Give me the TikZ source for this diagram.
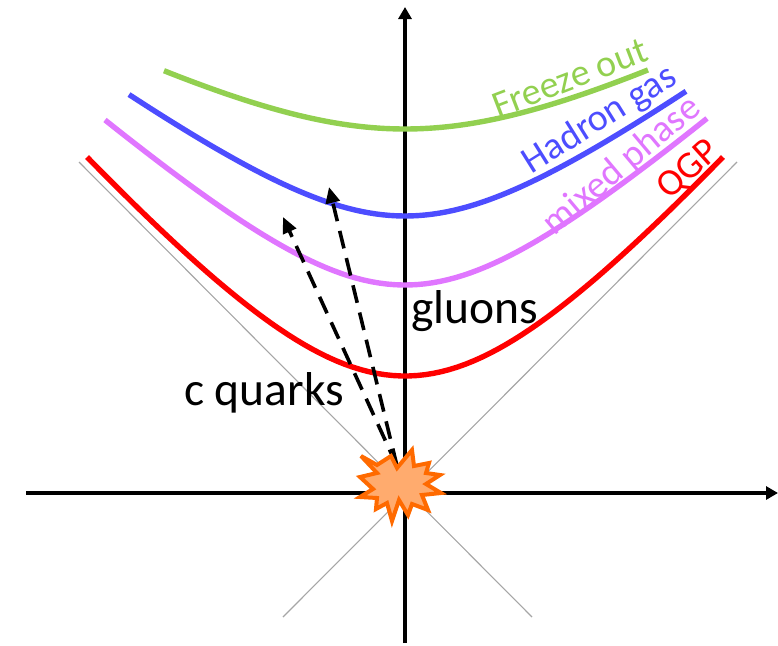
\documentclass[tikz,border=0pt]{standalone}
\usepackage{fontspec}
\setmainfont{Carlito}
\usetikzlibrary{arrows.meta}
\definecolor{frz}{HTML}{92D050}
\definecolor{hdr}{HTML}{4D4DFF}
\definecolor{mix}{HTML}{E076FF}
\definecolor{qgp}{HTML}{FF0000}
\definecolor{starfill}{HTML}{FFAB6E}
\definecolor{starline}{HTML}{FF6A00}
\tikzset{
  axisline/.style={line width=3.8pt,black},
  axistip/.style={-{Triangle[length=12pt,width=13pt]}},
  lightcone/.style={line width=1.1pt,black!35},
  curve/.style={line width=5.4pt},
  quarkpath/.style={line width=3.6pt,dash pattern=on 18pt off 10pt,-{Triangle[length=16pt,width=14pt]}},
  curvelabel/.style={font=\fontsize{38}{42}\selectfont,inner sep=0pt},
  plainlabel/.style={font=\fontsize{47.5}{50}\selectfont,inner sep=0pt,text=black},
}
\begin{document}
\begin{tikzpicture}[x=1pt,y=-1pt]
\useasboundingbox (0,0) rectangle (778,645);
\coordinate (xstart) at (26,493);
\coordinate (xend) at (778,493);
\coordinate (ystart) at (405,643);
\coordinate (yend) at (405,7);
\coordinate (cone1a) at (79,162);
\coordinate (cone1b) at (532,617);
\coordinate (cone2a) at (737,162);
\coordinate (cone2b) at (283,617);
\coordinate (origin) at (397,466);
\coordinate (c1) at (283,217);
\coordinate (c2) at (329,187);
\draw[lightcone] (cone1a) -- (cone1b);
\draw[lightcone] (cone2a) -- (cone2b);
\draw[axisline,axistip] (xstart) -- (xend);
\draw[axisline,axistip] (ystart) -- (yend);
\draw[curve,frz,domain=-241:243,samples=80] plot ({405+\x},{129-0.515*(veclen(200,\x)-200)});
\draw[curve,hdr,domain=-276:281,samples=80] plot ({405+\x},{216-0.74*(veclen(150,\x)-150)});
\draw[curve,mix,domain=-300:302,samples=80] plot ({405+\x},{285-0.89*(veclen(150,\x)-150)});
\draw[curve,qgp,domain=-318:318,samples=80] plot ({405+\x},{376-1.165*(veclen(175,\x)-175)});
\draw[quarkpath] (origin) -- (c1);
\draw[quarkpath] (origin) -- (c2);
\draw[line width=4pt,starline,fill=starfill,miter limit=6]
  (361,456) -- (377,465) -- (391,456) -- (397,468) -- (412,450) -- (414,466) -- (429,463) -- (426,473)
  -- (440,475) -- (426,484) -- (441,493) -- (422,495) -- (428,510) -- (412,504) -- (408,515) -- (399,500)
  -- (392,521) -- (387,503) -- (376,509) -- (377,498) -- (360,497) -- (373,489) -- (360,477) -- (377,473) -- cycle;
\node[plainlabel] (gluons) at (475,311) {gluons};
\node[plainlabel] (cquarks) at (264,393) {c quarks};
\node[curvelabel,text=frz,rotate=21] (freeze) at (570,78) {Freeze out};
\node[curvelabel,text=hdr,rotate=32] (hadron) at (600,120) {Hadron gas};
\node[curvelabel,text=mix,rotate=40] (mixed) at (622,166) {mixed phase};
\node[curvelabel,text=qgp,rotate=42] (qgplabel) at (689,170) {QGP};
\end{tikzpicture}
\end{document}
